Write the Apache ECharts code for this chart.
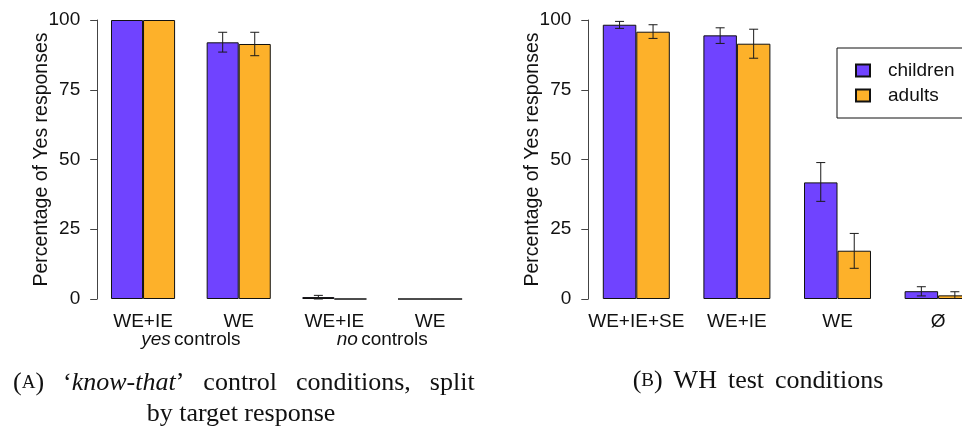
<!DOCTYPE html>
<html>
<head>
<meta charset="utf-8">
<script src="https://cdn.jsdelivr.net/npm/echarts@6/dist/echarts.min.js"></script>
<style>
  html, body { margin: 0; padding: 0; background: #fff; }
  #chart { width: 962px; height: 427px; }
</style>
</head>
<body>
<div id="chart"></div>
<script>
// Panel A: 'know-that' control conditions
const leftCategories = ['WE+IE', 'WE', 'WE+IE', 'WE'];
const leftChildren = [100, 92.0, 0.7, 0];
const leftAdults = [100, 91.4, 0, 0];
const leftChildrenLow = [null, 88.5, 0, null];
const leftChildrenHigh = [null, 95.6, 1.3, null];
const leftAdultsLow = [null, 87.2, null, null];
const leftAdultsHigh = [null, 95.6, null, null];

// Panel B: WH test conditions
const rightCategories = ['WE+IE+SE', 'WE+IE', 'WE', 'Ø'];
const rightChildren = [98.3, 94.5, 41.8, 2.8];
const rightAdults = [95.8, 91.5, 17.3, 1.3];
const rightChildrenLow = [97.0, 91.6, 35.0, 1.1];
const rightChildrenHigh = [99.5, 97.2, 48.9, 4.4];
const rightAdultsLow = [93.4, 86.3, 11.0, 0.2];
const rightAdultsHigh = [98.3, 96.7, 23.5, 2.6];

const yTicks = [0, 25, 50, 75, 100];

const PURPLE = '#7043ff';
const ORANGE = '#fdb12a';
const SANS = '"Liberation Sans", Arial, sans-serif';
const SERIF = '"Liberation Serif", "Times New Roman", serif';
const FS = 19;
const LEFT_GAP = 0.33;
const RIGHT_GAP = 0.334;

function errorData(lo, hi) {
  const out = [];
  lo.forEach((v, i) => { if (v != null && hi[i] != null) out.push([i, v, hi[i]]); });
  return out;
}

function errorRenderer(side, gap) {
  return function (params, api) {
    const idx = api.value(0);
    const band = Math.abs(api.coord([1, 0])[0] - api.coord([0, 0])[0]);
    const barW = band * (1 - gap) / 2;
    const cx = api.coord([idx, 0])[0] + side * barW / 2;
    const yHi = api.coord([idx, api.value(2)])[1];
    const yLo = api.coord([idx, api.value(1)])[1];
    const cap = 4.5;
    const style = { stroke: '#1a1a1a', lineWidth: 1, fill: null };
    return {
      type: 'group',
      children: [
        { type: 'line', shape: { x1: cx, y1: yHi, x2: cx, y2: yLo }, style },
        { type: 'line', shape: { x1: cx - cap, y1: yHi, x2: cx + cap, y2: yHi }, style },
        { type: 'line', shape: { x1: cx - cap, y1: yLo, x2: cx + cap, y2: yLo }, style }
      ]
    };
  };
}

function yAxisFor(gridIndex, offset) {
  return {
    type: 'value', gridIndex, min: 0, max: 100, interval: 25,
    offset,
    name: 'Percentage of Yes responses',
    nameLocation: 'middle', nameRotate: 90, nameGap: 46,
    nameMoveOverlap: false,
    nameTextStyle: { fontFamily: SANS, fontSize: 19.5, color: '#111' },
    axisLine: { show: true, lineStyle: { color: '#444', width: 1 } },
    axisTick: { show: true, inside: false, length: 7, lineStyle: { color: '#444' } },
    axisLabel: {
      fontFamily: SANS, fontSize: FS, color: '#111', margin: 17,
      formatter: v => (yTicks.indexOf(v) >= 0 ? String(v) : '')
    },
    splitLine: { show: false }
  };
}

function xAxisFor(gridIndex, data, boundaryGap) {
  return {
    type: 'category', gridIndex, data, boundaryGap,
    axisLine: { show: false }, axisTick: { show: false },
    axisLabel: { fontFamily: SANS, fontSize: FS, color: '#111', margin: 13, interval: 0 }
  };
}

const barStyle = color => ({ color, borderColor: '#111', borderWidth: 1 });

const chart = echarts.init(document.getElementById('chart'), null, { renderer: 'canvas' });

// Panel B runs past the right edge of the figure, so its grid spans the first to
// the last category centre and its value axis is pushed out to the left.
chart.setOption({
  animation: false,
  grid: [
    { left: 95.2, width: 382.7, top: 20, height: 279 },
    { left: 636.3, width: 301.8, top: 20, height: 279 }
  ],
  xAxis: [xAxisFor(0, leftCategories, true), xAxisFor(1, rightCategories, false)],
  yAxis: [yAxisFor(0, -2), yAxisFor(1, 48)],
  legend: {
    data: ['children', 'adults'],
    orient: 'vertical',
    left: 837, top: 48,
    icon: 'rect',
    itemWidth: 14, itemHeight: 12, itemGap: 6,
    selectedMode: false,
    borderColor: '#111', borderWidth: 1, borderRadius: 0,
    padding: [13, 40, 13, 18],
    textStyle: { fontFamily: SANS, fontSize: FS, color: '#111', padding: [0, 0, 0, 13], lineHeight: 18 }
  },
  series: [
    { name: 'children', type: 'bar', xAxisIndex: 0, yAxisIndex: 0, data: leftChildren, clip: false,
      barGap: 0, barCategoryGap: (LEFT_GAP * 100) + '%', itemStyle: barStyle(PURPLE) },
    { name: 'adults', type: 'bar', xAxisIndex: 0, yAxisIndex: 0, data: leftAdults, clip: false,
      barGap: 0, barCategoryGap: (LEFT_GAP * 100) + '%', itemStyle: barStyle(ORANGE) },
    { name: 'children', type: 'bar', xAxisIndex: 1, yAxisIndex: 1, data: rightChildren, clip: false,
      barGap: 0, barCategoryGap: (RIGHT_GAP * 100) + '%', itemStyle: barStyle(PURPLE) },
    { name: 'adults', type: 'bar', xAxisIndex: 1, yAxisIndex: 1, data: rightAdults, clip: false,
      barGap: 0, barCategoryGap: (RIGHT_GAP * 100) + '%', itemStyle: barStyle(ORANGE) },
    { type: 'custom', xAxisIndex: 0, yAxisIndex: 0, z: 5, clip: false,
      renderItem: errorRenderer(-1, LEFT_GAP), data: errorData(leftChildrenLow, leftChildrenHigh),
      encode: { x: 0, y: [1, 2] } },
    { type: 'custom', xAxisIndex: 0, yAxisIndex: 0, z: 5, clip: false,
      renderItem: errorRenderer(1, LEFT_GAP), data: errorData(leftAdultsLow, leftAdultsHigh),
      encode: { x: 0, y: [1, 2] } },
    { type: 'custom', xAxisIndex: 1, yAxisIndex: 1, z: 5, clip: false,
      renderItem: errorRenderer(-1, RIGHT_GAP), data: errorData(rightChildrenLow, rightChildrenHigh),
      encode: { x: 0, y: [1, 2] } },
    { type: 'custom', xAxisIndex: 1, yAxisIndex: 1, z: 5, clip: false,
      renderItem: errorRenderer(1, RIGHT_GAP), data: errorData(rightAdultsLow, rightAdultsHigh),
      encode: { x: 0, y: [1, 2] } }
  ]
});

// Group labels under panel A, centred between each pair of categories
const x0 = chart.convertToPixel({ xAxisIndex: 0 }, 0);
const x1 = chart.convertToPixel({ xAxisIndex: 0 }, 1);
const x2 = chart.convertToPixel({ xAxisIndex: 0 }, 2);
const x3 = chart.convertToPixel({ xAxisIndex: 0 }, 3);

const groupRich = {
  it: { fontFamily: SANS, fontSize: FS, fontStyle: 'italic', fill: '#111' },
  n: { fontFamily: SANS, fontSize: FS, fill: '#111' }
};
const capRich = {
  p: { fontFamily: SERIF, fontSize: 26, fill: '#111' },
  sc: { fontFamily: SERIF, fontSize: 19, fill: '#111' },
  i: { fontFamily: SERIF, fontSize: 26, fontStyle: 'italic', fill: '#111' },
  g: { width: 19 },
  h: { width: 11 }
};

chart.setOption({
  graphic: [
    { type: 'text', x: (x0 + x1) / 2, y: 340,
      style: { text: '{it|yes} {n|controls}', rich: groupRich, align: 'center', verticalAlign: 'middle' } },
    { type: 'text', x: (x2 + x3) / 2, y: 340,
      style: { text: '{it|no} {n|controls}', rich: groupRich, align: 'center', verticalAlign: 'middle' } },
    { type: 'text', x: 13, y: 383,
      style: { text: '{p|(}{sc|A}{p|)}{g|}{p|‘}{i|know-that}{p|’}{g|}{p|control}{g|}{p|conditions,}{g|}{p|split}',
               rich: capRich, align: 'left', verticalAlign: 'middle' } },
    { type: 'text', x: 241, y: 414,
      style: { text: '{p|by target response}', rich: capRich, align: 'center', verticalAlign: 'middle' } },
    { type: 'text', x: 758, y: 381,
      style: { text: '{p|(}{sc|B}{p|)}{h|}{p|WH}{h|}{p|test}{h|}{p|conditions}',
               rich: capRich, align: 'center', verticalAlign: 'middle' } }
  ]
});
</script>
</body>
</html>
